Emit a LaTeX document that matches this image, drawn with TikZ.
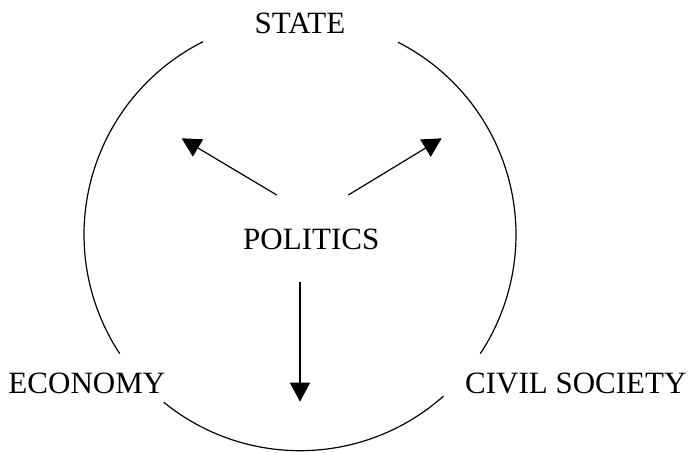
\documentclass[tikz,border=0pt]{standalone}
\usepackage{fontspec}
\setmainfont{Liberation Serif}
\usetikzlibrary{arrows.meta}
\begin{document}
\begin{tikzpicture}[x=1pt,y=1pt,
  lbl/.style={inner sep=0pt,font=\fontsize{31}{36}\selectfont},
  ring/.style={line width=1.2pt},
  arr/.style={line width=1.2pt,-{Triangle[length=19pt,width=20pt]}}]
\useasboundingbox (0,0) rectangle (690,452);
\coordinate (c) at (300,217.3);
% circle pieces
\draw[ring] (c) ++(116.7:216) arc[start angle=116.7,end angle=213.4,radius=216];
\draw[ring] (c) ++(230.9:216) arc[start angle=230.9,end angle=311.6,radius=216];
\draw[ring] (c) ++(326.6:216) arc[start angle=326.6,end angle=423.0,radius=216];
% labels
\node[lbl,anchor=base] (state) at (300,418.7) {STATE};
\node[lbl,anchor=base west] (politics) at (243,202) {POLITICS};
\node[lbl,anchor=base west] (economy) at (8.3,58) {ECONOMY};
\node[lbl,anchor=base west] (civil) at (465,58) {CIVIL SOCIETY};
% arrows
\coordinate (ls) at (276.7,257);
\coordinate (lt) at (181.7,313.7);
\coordinate (rs) at (348.3,257);
\coordinate (rt) at (441.7,313.7);
\coordinate (ds) at (300,170.3);
\coordinate (dt) at (300,50.3);
\draw[arr] (ls) -- (lt);
\draw[arr] (rs) -- (rt);
\draw[arr] (ds) -- (dt);
\end{tikzpicture}
\end{document}
